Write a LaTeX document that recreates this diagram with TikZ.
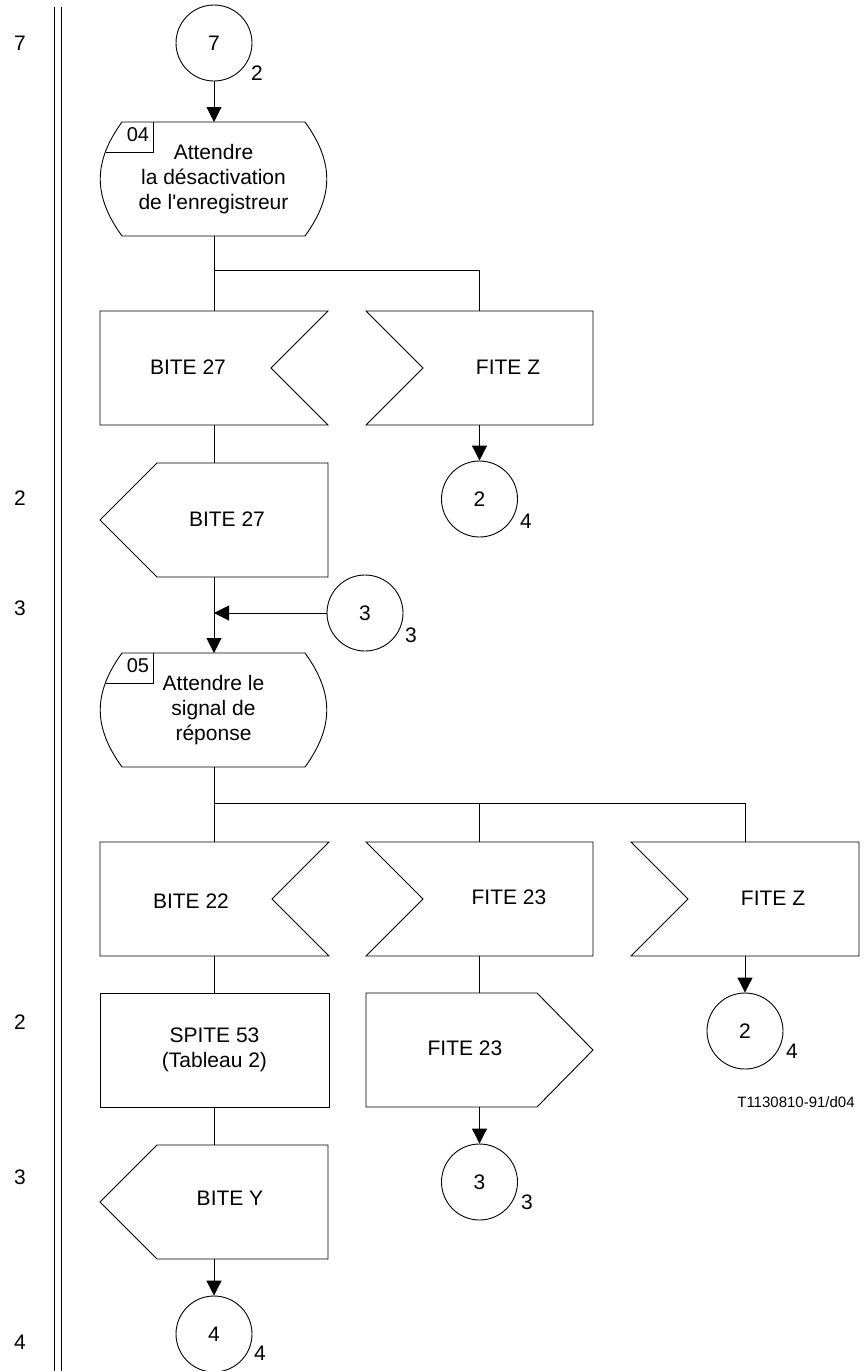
\documentclass[tikz,border=0pt]{standalone}
\usepackage{fontspec}
\setmainfont{Liberation Sans}
\usetikzlibrary{arrows.meta}
\tikzset{
  outline/.style={line width=0.9pt},
  conn/.style={line width=1pt},
  arr/.style={conn,-{Triangle[length=15pt,width=15pt]}},
  txt/.style={font=\fontsize{21}{25}\selectfont, inner sep=0pt, align=center},
  numtxt/.style={font=\fontsize{20}{24}\selectfont, inner sep=0pt},
  codetxt/.style={font=\fontsize{15}{18}\selectfont, inner sep=0pt},
  conncirc/.style={circle, draw, line width=0.9pt, minimum size=76pt, inner sep=0pt, font=\fontsize{21}{25}\selectfont},
  bx/.style 2 args={inner sep=0pt, outer sep=0pt, minimum width=#1pt, minimum height=#2pt, txt},
}
\newcommand\inR[1]{\draw[outline] (#1.north west) -- (#1.north east) -- ([xshift=-57pt]#1.east) -- (#1.south east) -- (#1.south west) -- cycle;}
\newcommand\inL[1]{\draw[outline] (#1.north west) -- (#1.north east) -- (#1.south east) -- (#1.south west) -- ([xshift=57pt]#1.west) -- cycle;}
\newcommand\outL[1]{\draw[outline] ([xshift=57pt]#1.north west) -- (#1.north east) -- (#1.south east) -- ([xshift=57pt]#1.south west) -- (#1.west) -- cycle;}
\newcommand\outR[1]{\draw[outline] (#1.north west) -- ([xshift=-56pt]#1.north east) -- (#1.east) -- ([xshift=-56pt]#1.south east) -- (#1.south west) -- cycle;}
\newcommand\stateS[1]{%
  \draw[outline] ([xshift=22pt]#1.north west) -- ([xshift=-22pt]#1.north east)
    .. controls ([xshift=7pt,yshift=-40pt]#1.north east) and ([xshift=7pt,yshift=40pt]#1.south east) .. ([xshift=-22pt]#1.south east)
    -- ([xshift=22pt]#1.south west)
    .. controls ([xshift=-7pt,yshift=40pt]#1.south west) and ([xshift=-7pt,yshift=-40pt]#1.north west) .. cycle;
  \draw[outline] ([xshift=5.5pt,yshift=-30pt]#1.north west) -- ([xshift=53pt,yshift=-30pt]#1.north west) -- ([xshift=53pt]#1.north west);
}
\begin{document}
\begin{tikzpicture}[x=1pt,y=-1pt]
\useasboundingbox (0,0) rectangle (863,1371);
% margin rule
\draw[line width=1.2pt] (54.5,7) -- (54.5,1371);
\draw[line width=1.2pt] (61.5,7) -- (61.5,1371);
% left column numbers
\node[txt] (l1) at (20,43) {7};
\node[txt] (l2) at (20,498) {2};
\node[txt] (l3) at (20,608) {3};
\node[txt] (l4) at (20,1022) {2};
\node[txt] (l5) at (20,1177) {3};
\node[txt] (l6) at (20,1342) {4};

% top connector
\node[conncirc] (c7) at (214,43) {7};
\node[txt] (c7n) at (257,73) {2};

% state 04
\node[bx={227}{114}] (s04) at (213.5,179) {Attendre\\la désactivation\\de l\textquotesingle enregistreur};
\stateS{s04}
\node[numtxt] (s04n) at (138,135) {04};

% inputs row 1
\node[bx={228}{114}] (in1) at (214,368) {};
\inR{in1}
\node[txt] (in1t) at (188,367) {BITE 27};
\node[bx={227}{114}] (in2) at (479.5,368) {};
\inL{in2}
\node[txt] (in2t) at (508,367) {FITE Z};

\node[conncirc] (c2a) at (479.5,499) {2};
\node[txt] (c2an) at (526,521) {4};

% output BITE 27
\node[bx={228}{114}] (out1) at (214,520) {};
\outL{out1}
\node[txt] (out1t) at (227,519) {BITE 27};

\node[conncirc] (c3a) at (365,613) {3};
\node[txt] (c3an) at (411,635) {3};

% state 05
\node[bx={227}{114}] (s05) at (213.5,710) {Attendre le\\signal de\\réponse};
\stateS{s05}
\node[numtxt] (s05n) at (138,666) {05};

% inputs row 2
\node[bx={229}{114}] (in3) at (214.5,899) {};
\inR{in3}
\node[txt] (in3t) at (191,901) {BITE 22};
\node[bx={227}{114}] (in4) at (479.5,899) {};
\inL{in4}
\node[txt] (in4t) at (509,897) {FITE 23};
\node[bx={228}{114}] (in5) at (745,899) {};
\inL{in5}
\node[txt] (in5t) at (773,898) {FITE Z};

% task
\node[bx={229}{114}, draw, outline] (task) at (214.5,1050) {SPITE 53\\(Tableau 2)};

% outputs row
\node[bx={228}{114}] (out2) at (214,1202) {};
\outL{out2}
\node[txt] (out2t) at (230,1198) {BITE Y};
\node[bx={227}{114}] (out3) at (479.5,1050) {};
\outR{out3}
\node[txt] (out3t) at (465,1048) {FITE 23};

\node[conncirc] (c4) at (214,1334) {4};
\node[txt] (c4n) at (260,1353) {4};
\node[conncirc] (c3b) at (479.5,1182) {3};
\node[txt] (c3bn) at (527,1202) {3};
\node[conncirc] (c2b) at (745,1031) {2};
\node[txt] (c2bn) at (792,1051) {4};

\node[codetxt] (code) at (796,1102) {T1130810-91/d04};

% connectors
\coordinate (b1) at (214,270);
\coordinate (b2) at (214,803);
\coordinate (j1) at (214,613);
\draw[arr] (c7.south) -- (c7.south |- s04.north);
\draw[conn] (c7.south |- s04.south) -- (c7.south |- in1.north);
\draw[conn] (b1) -| (in2.north);
\draw[arr] (in2.south) -- (c2a.north);
\draw[conn] (c7.south |- in1.south) -- (c7.south |- out1.north);
\draw[arr] (c7.south |- out1.south) -- (c7.south |- s05.north);
\draw[arr] (c3a.west) -- (j1);
\draw[conn] (c7.south |- s05.south) -- (c7.south |- in3.north);
\draw[conn] (b2) -| (in4.north);
\draw[conn] (b2) -| (in5.north);
\draw[arr] (in5.south) -- (c2b.north);
\draw[conn] (c7.south |- in3.south) -- (c7.south |- task.north);
\draw[conn] (c7.south |- task.south) -- (c7.south |- out2.north);
\draw[arr] (c7.south |- out2.south) -- (c4.north);
\draw[conn] (in4.south) -- (out3.north);
\draw[arr] (out3.south) -- (c3b.north);
\end{tikzpicture}
\end{document}
